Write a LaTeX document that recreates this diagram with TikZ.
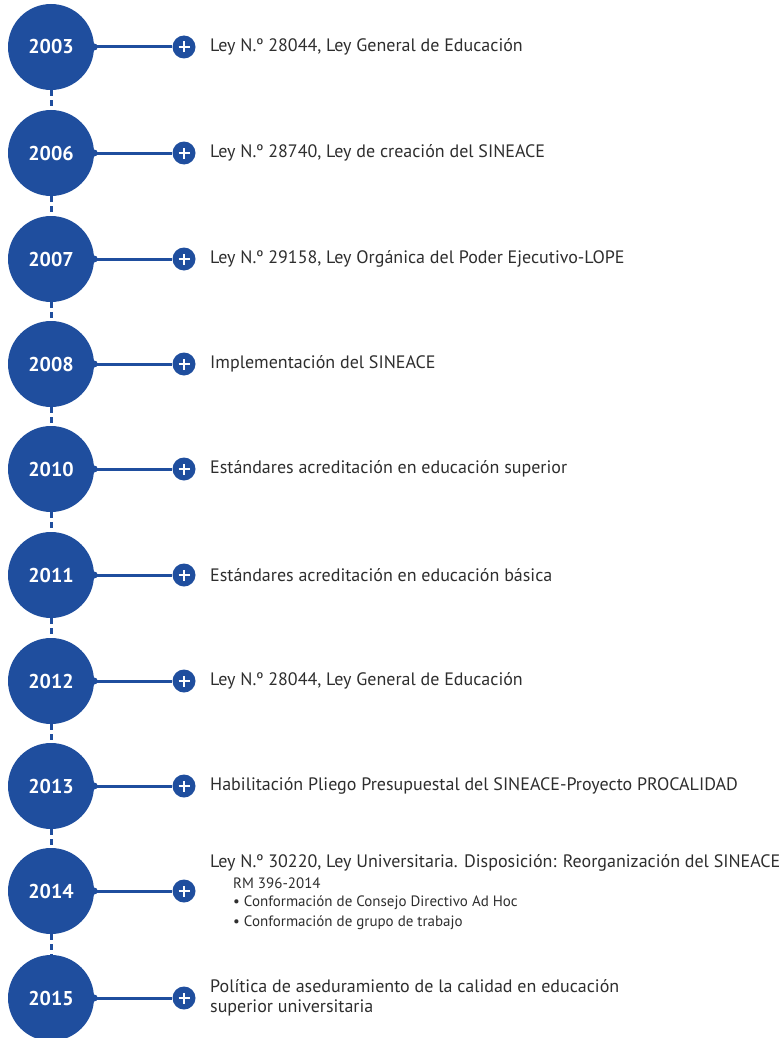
\documentclass[tikz,border=0pt]{standalone}
\usepackage{fontspec}
\setmainfont{PT Sans}
\definecolor{tlblue}{HTML}{1F4E9E}
\definecolor{txt}{HTML}{2E2E2E}
\begin{document}
\begin{tikzpicture}[x=1pt,y=-1pt,
  year/.style={circle, fill=tlblue, minimum size=86pt, inner sep=0pt, text=white, font=\bfseries\fontsize{20}{22}\selectfont},
  plusnode/.style={circle, fill=tlblue, minimum size=23pt, inner sep=0pt,
    path picture={
      \draw[white, line width=2.2pt] ([xshift=-5.5pt]path picture bounding box.center) -- ([xshift=5.5pt]path picture bounding box.center);
      \draw[white, line width=2.2pt] ([yshift=-5.5pt]path picture bounding box.center) -- ([yshift=5.5pt]path picture bounding box.center);}},
  entry/.style={anchor=west, text=txt, font=\fontsize{18}{21}\selectfont, inner sep=0pt},
  subentry/.style={anchor=west, text=txt, font=\fontsize{15}{17}\selectfont, inner sep=0pt},
  hlink/.style={draw=tlblue, line width=3pt},
  vlink/.style={draw=tlblue, line width=3pt, dash pattern=on 6pt off 4pt}]
\useasboundingbox (0,0) rectangle (779,1038);
\clip (0,0) rectangle (779,1038);

% year circles
\node[year] (c1)  at (51,47)  {2003};
\node[year] (c2)  at (51,153) {2006};
\node[year] (c3)  at (51,259) {2007};
\node[year] (c4)  at (51,364) {2008};
\node[year] (c5)  at (51,469) {2010};
\node[year] (c6)  at (51,575) {2011};
\node[year] (c7)  at (51,681) {2012};
\node[year] (c8)  at (51,786) {2013};
\node[year] (c9)  at (51,891) {2014};
\node[year] (c10) at (51,998) {2015};

% plus icons
\foreach \i/\y in {1/47,2/153,3/259,4/364,5/469,6/575,7/681,8/786,9/891,10/998}
  \node[plusnode] (p\i) at (184,\y) {};

% dashed vertical links
\foreach \a/\b in {1/2,2/3,3/4,4/5,5/6,6/7,7/8,8/9,9/10}
  \draw[vlink] (c\a.south) -- (c\b.north);

% horizontal links
\foreach \i in {1,...,10}{
  \draw[hlink] (c\i.east) -- (p\i.west);
  \fill[tlblue] (c\i.east) circle (3.5pt);
}

% texts
\node[entry] (t1) at (210,47)  {Ley N.º 28044, Ley General de Educación};
\node[entry] (t2) at (210,153) {Ley N.º 28740, Ley de creación del SINEACE};
\node[entry] (t3) at (210,259) {Ley N.º 29158, Ley Orgánica del Poder Ejecutivo-LOPE};
\node[entry] (t4) at (210,364) {Implementación del SINEACE};
\node[entry] (t5) at (210,469) {Estándares acreditación en educación superior};
\node[entry] (t6) at (210,575) {Estándares acreditación en educación básica};
\node[entry] (t7) at (210,681) {Ley N.º 28044, Ley General de Educación};
\node[entry] (t8) at (210,786) {Habilitación Pliego Presupuestal del SINEACE-Proyecto PROCALIDAD};
\node[entry] (t9) at (210,863) {Ley N.º 30220, Ley Universitaria. Disposición: Reorganización del SINEACE};
\node[subentry] (t9a) at (233,883) {RM 396-2014};
\node[subentry] (t9b) at (233,903) {• Conformación de Consejo Directivo Ad Hoc};
\node[subentry] (t9c) at (233,923) {• Conformación de grupo de trabajo};
\node[entry] (t10) at (210,986) {Política de aseduramiento de la calidad en educación};
\node[entry] (t10b) at (210,1008) {superior universitaria};
\end{tikzpicture}
\end{document}
